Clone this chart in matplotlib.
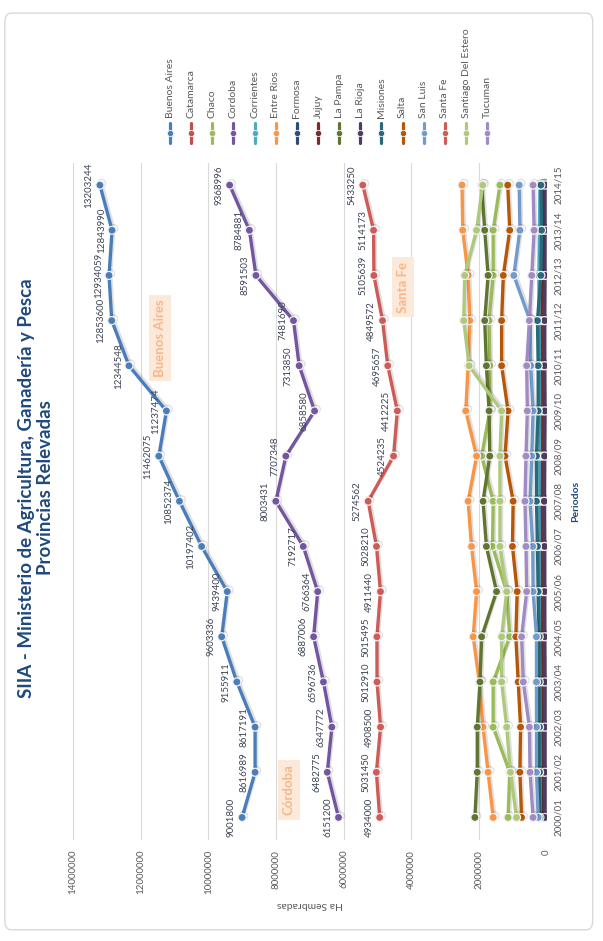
import matplotlib
matplotlib.use('Agg')
import matplotlib.pyplot as plt
import matplotlib.patheffects as pe
from matplotlib.patches import FancyBboxPatch

plt.rcParams['font.family'] = ['Lato', 'DejaVu Sans']

periodos = ['2000/01', '2001/02', '2002/03', '2003/04', '2004/05', '2005/06', '2006/07', '2007/08',
            '2008/09', '2009/10', '2010/11', '2011/12', '2012/13', '2013/14', '2014/15']

# hectareas sembradas por provincia
buenos_aires = [9001800, 8616989, 8617191, 9155911, 9603336, 9439400, 10197402, 10852374,
                11462075, 11237474, 12344548, 12853600, 12934059, 12843990, 13203244]
catamarca = [120000, 120000, 130000, 130000, 140000, 140000, 150000, 160000,
             150000, 140000, 150000, 150000, 140000, 130000, 130000]
chaco = [1140000, 1090000, 1580000, 1580000, 1090000, 1180000, 1600000, 1580000,
         1920000, 1680000, 1680000, 1700000, 1580000, 1580000, 1380000]
cordoba = [6151200, 6482775, 6347772, 6596736, 6887006, 6766364, 7192717, 8003431,
           7707348, 6858580, 7313850, 7481690, 8591503, 8784881, 9368996]
corrientes = [150000, 140000, 150000, 160000, 170000, 180000, 190000, 200000,
              200000, 190000, 210000, 220000, 230000, 210000, 200000]
entre_rios = [1580000, 1730000, 1880000, 1990000, 2170000, 2070000, 2220000, 2320000,
              2070000, 2390000, 2320000, 2270000, 2320000, 2480000, 2500000]
formosa = [90000, 90000, 100000, 100000, 110000, 110000, 120000, 130000,
           120000, 100000, 110000, 120000, 110000, 100000, 100000]
jujuy = [80000, 80000, 80000, 90000, 90000, 100000, 100000, 100000,
         100000, 100000, 100000, 100000, 100000, 90000, 90000]
la_pampa = [2120000, 2050000, 2050000, 1970000, 1920000, 1480000, 1780000, 1880000,
            1680000, 1700000, 1780000, 1830000, 1730000, 1830000, 1920000]
la_rioja = [50000, 50000, 50000, 50000, 60000, 60000, 60000, 70000,
            60000, 50000, 60000, 60000, 50000, 50000, 50000]
misiones = [200000, 210000, 210000, 220000, 220000, 250000, 270000, 300000,
            300000, 250000, 250000, 270000, 170000, 150000, 170000]
salta = [740000, 790000, 770000, 840000, 910000, 870000, 1010000, 990000,
         1230000, 1140000, 1330000, 1330000, 1280000, 1090000, 1150000]
san_luis = [250000, 300000, 300000, 300000, 300000, 400000, 410000, 490000,
            440000, 400000, 470000, 490000, 970000, 790000, 810000]
santa_fe = [4934000, 5031450, 4908500, 5012910, 5015495, 4911440, 5028210, 5274562,
            4524235, 4412225, 4695657, 4849572, 5105639, 5114173, 5433250]
santiago = [890000, 1070000, 1180000, 1330000, 1330000, 1180000, 1380000, 1380000,
            1380000, 1330000, 2290000, 2450000, 2420000, 2070000, 1890000]
tucuman = [400000, 490000, 510000, 690000, 740000, 590000, 610000, 640000,
           610000, 570000, 590000, 510000, 440000, 370000, 400000]

provincias = ['Buenos Aires', 'Catamarca', 'Chaco', 'Cordoba', 'Corrientes', 'Entre Rios',
              'Formosa', 'Jujuy', 'La Pampa', 'La Rioja', 'Misiones', 'Salta', 'San Luis',
              'Santa Fe', 'Santiago Del Estero', 'Tucuman']
series = [buenos_aires, catamarca, chaco, cordoba, corrientes, entre_rios, formosa, jujuy,
          la_pampa, la_rioja, misiones, salta, san_luis, santa_fe, santiago, tucuman]
colores = ['#4A7EBB', '#C0504D', '#9BBB59', '#7455A0', '#4BACC6', '#F79646', '#2C4D75',
           '#772C2A', '#5F7530', '#4D3B62', '#276A7C', '#B65708', '#729ACA', '#CD5B58',
           '#AFC97A', '#A08BC4']
con_etiquetas = ['Buenos Aires', 'Cordoba', 'Santa Fe']

valores_eje = [0, 2000000, 4000000, 6000000, 8000000, 10000000, 12000000, 14000000]

fig = plt.figure(figsize=(6.03, 9.41), dpi=100)
fig.patch.set_facecolor('white')

# borde del grafico
fig.add_artist(FancyBboxPatch((0.008, 0.012), 0.975, 0.974, boxstyle='round,pad=0,rounding_size=0.01',
                              transform=fig.transFigure, facecolor='none', edgecolor='#D9D9D9', lw=1))

ax = fig.add_axes([0.121, 0.1073, 0.7855, 0.72])
pos = list(range(len(periodos)))
sombra = [pe.SimpleLineShadow(offset=(1.2, 1.2), alpha=0.12), pe.Normal()]

for nombre, vals, col in zip(provincias, series, colores):
    ax.plot(vals, pos, color=col, lw=2.4, marker='o', ms=5.8, mfc=col, mec='#F2F2F2', mew=0.9,
            solid_capstyle='round', zorder=3, path_effects=sombra)
    if nombre in con_etiquetas:
        for v, p in zip(vals, pos):
            ax.annotate(str(v), (v, p), xytext=(-4.5, 0), textcoords='offset points', rotation=90,
                        ha='right', va='center', fontsize=7, color='#3C4354', zorder=4)

ax.set_xlim(14000000, 0)
ax.set_ylim(-0.5, len(periodos) - 0.5)
ax.set_xticks(valores_eje)
ax.set_xticklabels([str(v) for v in valores_eje], rotation=90, fontsize=7, color='#595959')
ax.xaxis.grid(True, color='#D9D9D9', lw=0.8)
ax.set_axisbelow(True)
ax.set_yticks(pos)
ax.set_yticklabels(periodos, rotation=90, fontsize=7, color='#595959', va='center')
ax.yaxis.tick_right()
ax.yaxis.set_label_position('right')
ax.tick_params(axis='x', length=0, pad=7)
ax.tick_params(axis='y', length=0, pad=5)
for s in ax.spines.values():
    s.set_visible(False)
ax.set_xlabel('Ha Sembradas', rotation=180, fontsize=7.5, color='#595959', labelpad=4)
ax.set_ylabel('Periodos', rotation=90, fontsize=7.5, color='#1F497D', fontweight='bold', labelpad=6)

# recuadros con el nombre de la provincia
for txt, xf, yf in [('Buenos Aires', 0.184, 0.741), ('Córdoba', 0.456, 0.074), ('Santa Fe', 0.697, 0.816)]:
    ax.text(xf, yf, txt, transform=ax.transAxes, rotation=90, ha='center', va='center', fontsize=9.5,
            fontweight='bold', color='#F5B88C',
            bbox=dict(boxstyle='square,pad=0.35', facecolor='#FDE9D9', edgecolor='none'))

# titulo
fig.text(0.0597, 0.4814, 'SIIA - Ministerio de Agricultura, Ganadería y Pesca\nProvincias Relevadas',
         rotation=90, ha='center', va='center', multialignment='center', fontsize=13.5,
         fontweight='bold', color='#1F497D', linespacing=1.2)

# leyenda
axl = fig.add_axes([0.2644, 0.8406, 0.561, 0.138])
axl.set_xlim(-0.5, len(provincias) - 0.5)
axl.set_ylim(150, 20)
axl.axis('off')
for i, (nombre, col) in enumerate(zip(provincias, colores)):
    axl.plot([i, i], [143, 123], color=col, lw=2.3, solid_capstyle='round')
    axl.plot([i], [133], marker='o', ms=4.5, color=col, mec='#F2F2F2', mew=0.6)
    axl.text(i, 118, nombre, rotation=90, ha='center', va='bottom', fontsize=7.5, color='#595959')

fig.savefig('out.png', dpi=100)
